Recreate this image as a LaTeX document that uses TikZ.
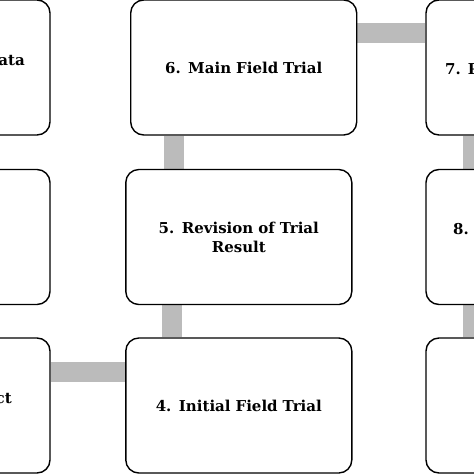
\documentclass[tikz,border=0pt]{standalone}
\usepackage{fontspec}
\setmainfont{DejaVu Serif}
\usetikzlibrary{backgrounds}
\definecolor{conngray}{RGB}{187,187,187}
\begin{document}
\begin{tikzpicture}[x=1pt,y=-1pt,
  box/.style={draw=black, line width=1.4pt, rounded corners=13pt, fill=white,
    minimum width=226pt, minimum height=135pt, inner sep=0pt,
    text width=210pt, align=center,
    font=\bfseries\fontsize{15}{19}\selectfont},
  lbl/.style={inner sep=0pt, font=\bfseries\fontsize{15}{19}\selectfont},
  conn/.style={draw=conngray, line width=20pt}]
\useasboundingbox (0,0) rectangle (474,474);
\clip (0,0) rectangle (474,474);
\node[box] (b1) at (-63,67.5) {};
\node[box] (b2) at (-63,237) {};
\node[box] (b3) at (-63,405.5) {};
\node[box] (b4) at (238.8,405.5) {4. Initial Field Trial};
\node[box] (b5) at (238.8,237) {5. Revision of Trial\\Result};
\node[box] (b6) at (243.7,67.5) {6. Main Field Trial};
\node[box] (b7) at (539,67.5) {};
\node[box] (b8) at (539,237) {};
\node[box] (b9) at (539,405.5) {};
\node[lbl, anchor=base east] (t1) at (25,65) {ata};
\node[lbl, anchor=base east] (t3) at (12,403) {ct};
\node[lbl, anchor=base west] (t7) at (445,74) {7. P};
\node[lbl, anchor=base west] (t8) at (453,234) {8.};
\coordinate (c56) at (174,0);
\coordinate (c45) at (172,0);
\coordinate (c34) at (0,372);
\coordinate (c67) at (0,33);
\coordinate (c78) at (473,0);
\begin{scope}[on background layer]
\draw[conn] (b6.south -| c56) -- (b5.north -| c56);
\draw[conn] (b5.south -| c45) -- (b4.north -| c45);
\draw[conn] (b3.east |- c34) -- (b4.west |- c34);
\draw[conn] (b6.east |- c67) -- (b7.west |- c67);
\draw[conn] (b7.south -| c78) -- (b8.north -| c78);
\draw[conn] (b8.south -| c78) -- (b9.north -| c78);
\end{scope}
\end{tikzpicture}
\end{document}
